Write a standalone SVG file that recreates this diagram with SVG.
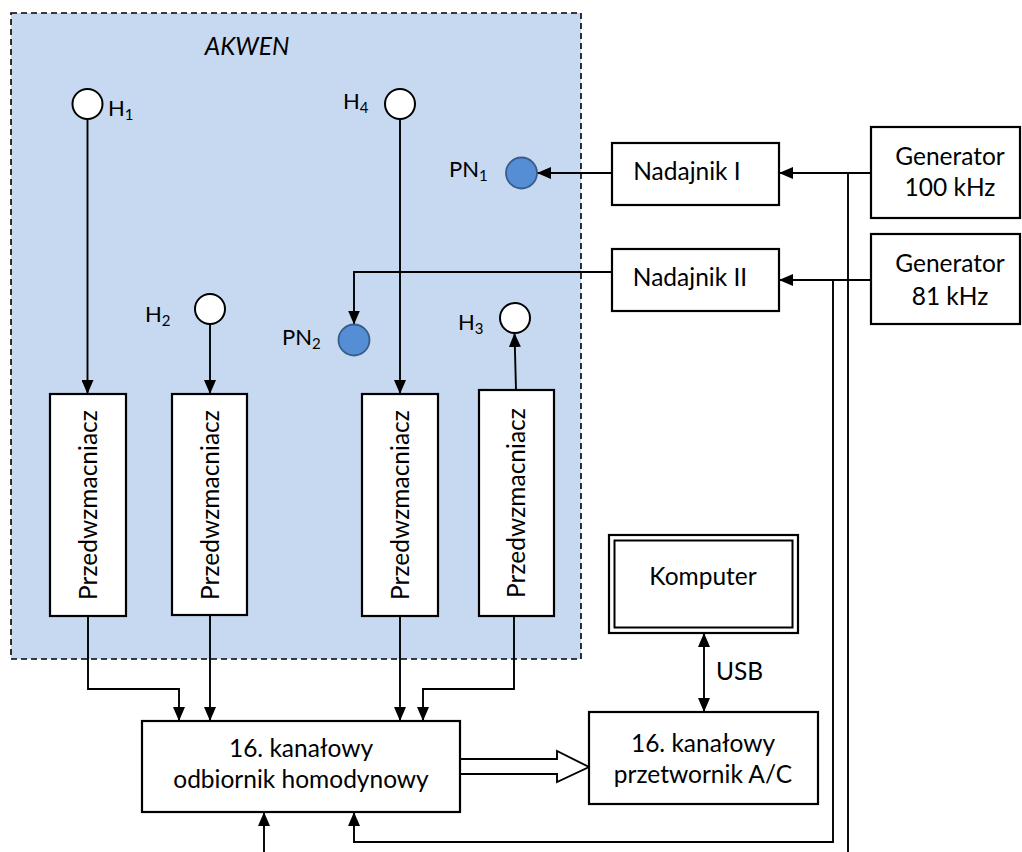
<svg xmlns="http://www.w3.org/2000/svg" width="1022" height="852" viewBox="0 0 1022 852">
<defs>
<marker id="ah" viewBox="0 0 14 12" refX="14" refY="6" markerWidth="14" markerHeight="12" markerUnits="userSpaceOnUse" orient="auto-start-reverse">
<path d="M0,0 L14,6 L0,12 Z" fill="#000"/>
</marker>
</defs>
<style>
.box{fill:#fff;stroke:#000;stroke-width:2.2}
.hyd{fill:#fff;stroke:#000;stroke-width:2}
.pn{fill:#558ed5;stroke:#385d8a;stroke-width:1.8}
.ln{fill:none;stroke:#000;stroke-width:1.9}
.arr{marker-end:url(#ah)}
.t{font-family:Lato,"Liberation Sans",sans-serif;font-size:24.5px;fill:#000}
.lbl{font-family:Lato,"Liberation Sans",sans-serif;font-size:22px;fill:#000}
.c{text-anchor:middle}
.sub{font-size:15px}
.rot{font-family:Lato,"Liberation Sans",sans-serif;font-size:24.5px;fill:#000;text-anchor:middle}
</style>
<rect width="1022" height="852" fill="#fff"/>
<g id="akwen">
<rect x="11" y="13" width="570" height="646" fill="#c6d9f0" stroke="#000" stroke-width="1.6" stroke-dasharray="6,4"/>
<text class="t c" x="247" y="55" font-style="italic" font-size="24px">AKWEN</text>
</g>
<g id="connectors">
<line class="ln arr" x1="87.5" y1="119" x2="87.5" y2="394"/>
<line class="ln arr" x1="210" y1="324" x2="210" y2="394"/>
<line class="ln arr" x1="400" y1="119" x2="400" y2="394"/>
<line class="ln arr" x1="516" y1="390" x2="514.5" y2="333"/>
<line class="ln arr" x1="612" y1="173" x2="537" y2="173"/>
<line class="ln arr" x1="871" y1="173" x2="779" y2="173"/>
<line class="ln arr" x1="871" y1="280" x2="779" y2="280"/>
<polyline class="ln arr" points="612,272 354,272 354,324.5"/>
<polyline class="ln arr" points="88,616 88,689 179,689 179,721"/>
<line class="ln arr" x1="210" y1="615" x2="210" y2="721"/>
<line class="ln arr" x1="400" y1="616" x2="400" y2="721"/>
<polyline class="ln arr" points="514,616 514,689 423,689 423,721"/>
<polygon points="460,759 557,759 557,751 589,767 557,782 557,774 460,774" fill="#fff" stroke="#000" stroke-width="1.9"/>
<line class="ln arr" x1="704" y1="633" x2="704" y2="712" marker-start="url(#ah)"/>
<line class="ln" x1="848" y1="173" x2="848" y2="852"/>
<polyline class="ln arr" points="833,280 833,842 354,842 354,812"/>
<line class="ln arr" x1="264" y1="852" x2="264" y2="812"/>
</g>
<g id="H1"><circle class="hyd" cx="87.5" cy="104" r="15"/><text class="lbl" x="108" y="116">H<tspan class="sub" dy="4">1</tspan></text></g>
<g id="H4"><circle class="hyd" cx="400" cy="104" r="15"/><text class="lbl" x="343" y="109">H<tspan class="sub" dy="4">4</tspan></text></g>
<g id="PN1"><circle class="pn" cx="521.5" cy="173" r="15.5"/><text class="lbl" x="449" y="177">PN<tspan class="sub" dy="4">1</tspan></text></g>
<g id="H2"><circle class="hyd" cx="210" cy="309" r="15"/><text class="lbl" x="145" y="322">H<tspan class="sub" dy="4">2</tspan></text></g>
<g id="PN2"><circle class="pn" cx="354" cy="340" r="15.5"/><text class="lbl" x="282" y="345">PN<tspan class="sub" dy="4">2</tspan></text></g>
<g id="H3"><circle class="hyd" cx="515" cy="318" r="15"/><text class="lbl" x="458" y="330">H<tspan class="sub" dy="4">3</tspan></text></g>
<g id="przedwzm1"><rect class="box" x="50" y="394" width="76" height="222"/><text class="rot" transform="translate(97,505) rotate(-90)">Przedwzmacniacz</text></g>
<g id="przedwzm2"><rect class="box" x="172" y="394" width="75" height="221"/><text class="rot" transform="translate(218.5,505) rotate(-90)">Przedwzmacniacz</text></g>
<g id="przedwzm3"><rect class="box" x="362" y="394" width="76" height="222"/><text class="rot" transform="translate(409,505) rotate(-90)">Przedwzmacniacz</text></g>
<g id="przedwzm4"><rect class="box" x="479" y="390" width="75" height="226"/><text class="rot" transform="translate(525,503) rotate(-90)">Przedwzmacniacz</text></g>
<g id="nadajnik1"><rect class="box" x="612" y="143" width="167" height="62"/><text class="t c" x="687" y="180">Nadajnik I</text></g>
<g id="nadajnik2"><rect class="box" x="612" y="249" width="167" height="62"/><text class="t c" x="690" y="286">Nadajnik II</text></g>
<g id="gen1"><rect class="box" x="871" y="127" width="149" height="91"/><text class="t c" x="950" y="165">Generator</text><text class="t c" x="950" y="196">100 kHz</text></g>
<g id="gen2"><rect class="box" x="871" y="234" width="149" height="90"/><text class="t c" x="950" y="272">Generator</text><text class="t c" x="950" y="305">81 kHz</text></g>
<g id="komputer"><rect class="box" x="609" y="535" width="189" height="98"/><rect fill="none" stroke="#000" stroke-width="2" x="614.5" y="540.5" width="178" height="87"/><text class="t c" x="703" y="585">Komputer</text></g>
<g id="usb"><text class="t" x="716" y="680">USB</text></g>
<g id="odbiornik"><rect class="box" x="142" y="721" width="318" height="91"/><text class="t c" x="301" y="757">16. kanałowy</text><text class="t c" x="301" y="788">odbiornik homodynowy</text></g>
<g id="przetwornik"><rect class="box" x="589" y="712" width="229" height="92"/><text class="t c" x="703" y="752">16. kanałowy</text><text class="t c" x="703" y="783">przetwornik A/C</text></g>
</svg>
